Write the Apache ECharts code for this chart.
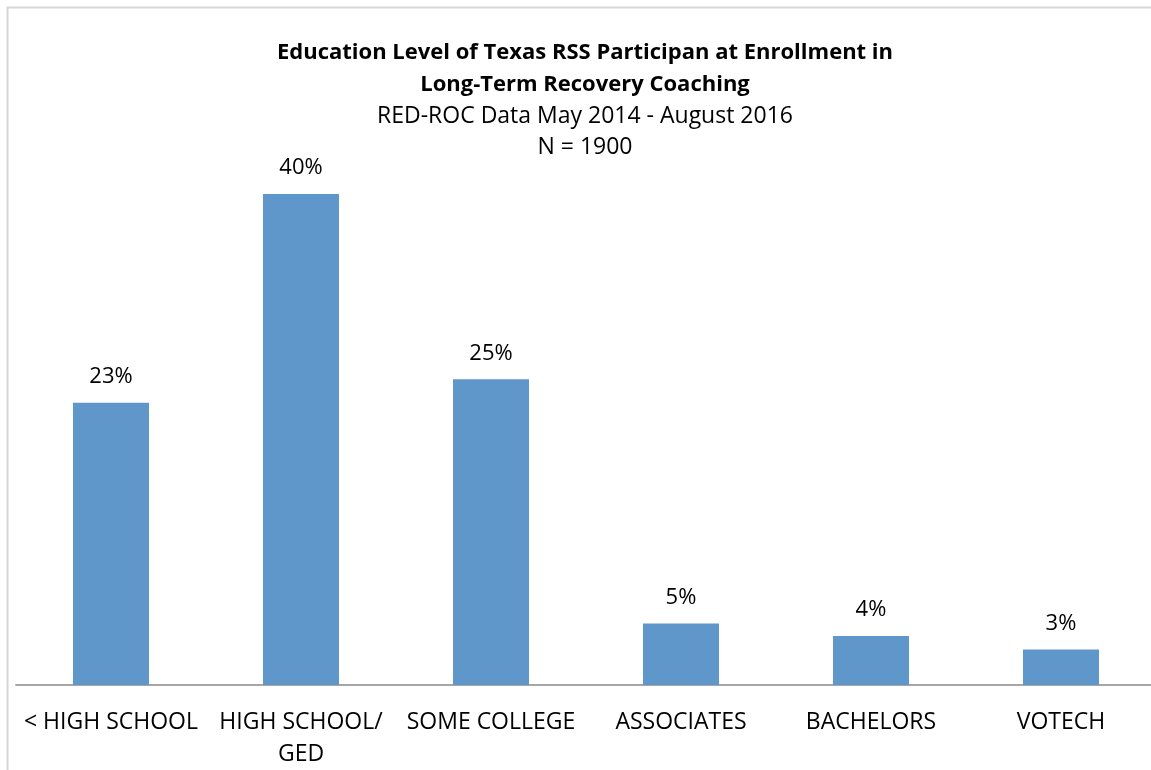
<!DOCTYPE html>
<html>
<head>
<meta charset="utf-8">
<script src="https://cdn.jsdelivr.net/npm/echarts@6/dist/echarts.min.js"></script>
<style>
html,body{margin:0;padding:0;background:#fff;}
#chart{width:1151px;height:770px;}
</style>
</head>
<body>
<div id="chart"></div>
<script>
const categories = ['< HIGH SCHOOL', 'HIGH SCHOOL/\nGED', 'SOME COLLEGE', 'ASSOCIATES', 'BACHELORS', 'VOTECH'];
const percentValues = [23.0, 40.0, 24.9, 5.0, 4.0, 2.9];
const titleLines = ['Education Level of Texas RSS Participan at Enrollment in', 'Long-Term Recovery Coaching'];
const subtitleLines = ['RED-ROC Data May 2014 - August 2016', 'N = 1900'];

const font = '"Open Sans", Lato, sans-serif';
const chart = echarts.init(document.getElementById('chart'));
chart.setOption({
  animation: false,
  backgroundColor: '#fff',
  graphic: [{
    type: 'rect', left: 5, top: 5, z: 100, silent: true,
    shape: { width: 1200, height: 820 },
    style: { fill: 'none', stroke: '#d6d6d6', lineWidth: 2 }
  }],
  title: {
    text: titleLines.join('\n'),
    subtext: subtitleLines.join('\n'),
    left: 580, textAlign: 'center', top: 32, itemGap: 0,
    textStyle: { fontFamily: font, fontWeight: 'bold', fontSize: 22, color: '#000', lineHeight: 32 },
    subtextStyle: { fontFamily: font, fontSize: 23, color: '#000', lineHeight: 31 }
  },
  grid: { left: 16, width: 1140, top: 132.6, bottom: 85, outerBoundsMode: 'none', containLabel: false },
  xAxis: {
    type: 'category', data: categories,
    axisLine: { lineStyle: { color: '#a6a6a6', width: 2 } },
    axisTick: { show: false },
    axisLabel: { fontFamily: font, fontSize: 23, color: '#000', margin: 21, lineHeight: 32, interval: 0 }
  },
  yAxis: {
    type: 'value', min: 0, max: 45, show: false, splitLine: { show: false }
  },
  series: [{
    type: 'bar', data: percentValues, barWidth: 76,
    itemStyle: { color: '#6097CA' },
    label: {
      show: true, position: 'top', distance: 15,
      fontFamily: font, fontSize: 22, color: '#000',
      formatter: p => Math.round(p.value) + '%'
    }
  }]
});
</script>
</body>
</html>
